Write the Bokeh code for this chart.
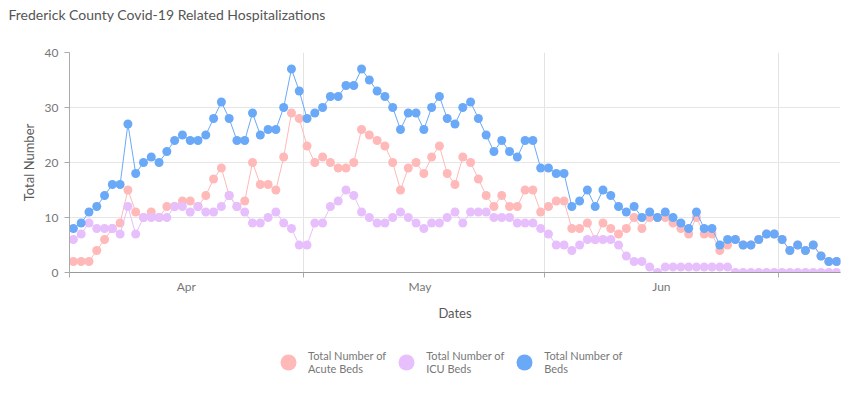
import pandas as pd
from bokeh.plotting import figure
from bokeh.layouts import column
from bokeh.models import (Range1d, FixedTicker, Legend, LegendItem,
                          DatetimeTickFormatter)
from bokeh.embed import file_html
from bokeh.resources import INLINE

# ---- data ----
dates = pd.date_range("2020-04-01", "2020-07-08", freq="D")

acute_beds = [2, 2, 2, 4, 6, 8, 9, 15, 11, 10, 11, 10, 12, 12, 13, 13, 12, 14, 17, 19, 14, 12, 13, 20, 16,
              16, 15, 21, 29, 28, 23, 20, 21, 20, 19, 19, 20, 26, 25, 24, 23, 20, 15, 19, 20, 18, 21, 23,
              18, 16, 21, 20, 17, 14, 12, 14, 12, 12, 15, 15, 11, 12, 13, 13, 8, 8, 9, 6, 9, 8, 7,
              8, 10, 8, 10, 10, 10, 9, 8, 7, 10, 7, 7, 4, 5, 6, 5, 5, 6, 7, 7, 6, 4, 5, 4, 5, 3, 2, 2]

icu_beds = [6, 7, 9, 8, 8, 8, 7, 12, 7, 10, 10, 10, 10, 12, 12, 11, 12, 11, 11, 12, 14, 12, 11, 9, 9,
            10, 11, 9, 8, 5, 5, 9, 9, 12, 13, 15, 14, 11, 10, 9, 9, 10, 11, 10, 9, 8, 9, 9,
            10, 11, 9, 11, 11, 11, 10, 10, 10, 9, 9, 9, 8, 7, 5, 5, 4, 5, 6, 6, 6, 6, 5,
            3, 2, 2, 1, 0, 1, 1, 1, 1, 1, 1, 1, 1, 1, 0, 0, 0, 0, 0, 0, 0, 0, 0, 0, 0, 0, 0, 0]

total_beds = [8, 9, 11, 12, 14, 16, 16, 27, 18, 20, 21, 20, 22, 24, 25, 24, 24, 25, 28, 31, 28, 24, 24, 29, 25,
              26, 26, 30, 37, 33, 28, 29, 30, 32, 32, 34, 34, 37, 35, 33, 32, 30, 26, 29, 29, 26, 30, 32,
              28, 27, 30, 31, 28, 25, 22, 24, 22, 21, 24, 24, 19, 19, 18, 18, 12, 13, 15, 12, 15, 14, 12,
              11, 12, 10, 11, 10, 11, 10, 9, 8, 11, 8, 8, 5, 6, 6, 5, 5, 6, 7, 7, 6, 4, 5, 4, 5, 3, 2, 2]

series_names = ["Total Number of\nAcute Beds", "Total Number of\nICU Beds", "Total Number of\nBeds"]
series_colors = ["#ffb9b9", "#e7bffc", "#6aa9f8"]
y_ticks = [0, 10, 20, 30, 40]
month_starts = ["2020-04-01", "2020-05-01", "2020-06-01", "2020-07-01"]
month_mids = ["2020-04-16", "2020-05-16", "2020-06-16"]

FONT = "Lato"

def ms(s):
    return pd.Timestamp(s).value / 1e6

x = dates + pd.Timedelta(hours=12)
series = [acute_beds, icu_beds, total_beds]

p = figure(width=861, height=330, output_backend="svg", toolbar_location=None,
           x_axis_type="datetime",
           x_range=Range1d(ms("2020-04-01"), ms("2020-07-09")),
           y_range=Range1d(0, 40),
           min_border_left=69, min_border_right=21, min_border_top=52, min_border_bottom=58)
p.outline_line_color = None

# title
p.title.text = "Frederick County Covid-19 Related Hospitalizations"
p.title.text_font = FONT
p.title.text_font_size = "14px"
p.title.text_font_style = "normal"
p.title.text_color = "#555555"
p.title.align = "left"
p.title.vertical_align = "top"
p.title.offset = -61
p.title.standoff = 0
p.title.padding = dict(left=0, right=0, top=0, bottom=28)

for vals, col in zip(series, series_colors):
    p.line(x, vals, line_color=col, line_width=1)
    p.scatter(x, vals, size=9, fill_color=col, line_color=None, marker="circle")

# axes
xa = p.xaxis[0]
xa.ticker = FixedTicker(ticks=[ms(d) for d in month_mids], minor_ticks=[ms(d) for d in month_starts])
xa.formatter = DatetimeTickFormatter(days="%b", months="%b", years="%b", hours="%b",
                                     context=None)
xa.major_tick_line_color = None
xa.major_tick_out = 0
xa.major_tick_in = 0
xa.minor_tick_out = 5
xa.minor_tick_in = 0
xa.minor_tick_line_color = "#aaaaaa"
xa.axis_line_color = "#999999"
xa.major_label_standoff = 1
xa.major_label_text_font = FONT
xa.major_label_text_font_size = "12px"
xa.major_label_text_color = "#777777"
xa.axis_label = "Dates"
xa.axis_label_text_font = FONT
xa.axis_label_text_font_size = "13px"
xa.axis_label_text_font_style = "normal"
xa.axis_label_text_color = "#595959"
xa.axis_label_standoff = 8

ya = p.yaxis[0]
ya.ticker = FixedTicker(ticks=y_ticks)
ya.minor_tick_line_color = None
ya.major_tick_out = 5
ya.major_tick_in = 0
ya.major_tick_line_color = "#aaaaaa"
ya.axis_line_color = "#aaaaaa"
ya.major_label_standoff = 6
ya.major_label_text_font = FONT
ya.major_label_text_font_size = "12px"
ya.major_label_text_color = "#777777"
ya.axis_label = "Total Number"
ya.axis_label_text_font = FONT
ya.axis_label_text_font_size = "13px"
ya.axis_label_text_font_style = "normal"
ya.axis_label_text_color = "#595959"
ya.axis_label_standoff = 5

p.xgrid.ticker = FixedTicker(ticks=[ms(d) for d in month_starts])
p.xgrid.grid_line_color = "#e3e3e3"
p.ygrid.grid_line_color = "#e6e6e6"

# legend strip (separate figure below the chart; its y-range shows no data,
# the renderers only supply the legend glyphs)
pl = figure(width=861, height=63, output_backend="svg", toolbar_location=None,
            x_range=p.x_range, y_range=Range1d(100, 101),
            x_axis_location=None, y_axis_location=None,
            min_border_left=69, min_border_right=21, min_border_top=0, min_border_bottom=0)
pl.outline_line_color = None
pl.grid.visible = False
leg_renderers = [pl.scatter(x, vals, fill_color=col, line_color=None, marker="circle")
                 for vals, col in zip(series, series_colors)]
legend = Legend(items=[LegendItem(label=n, renderers=[r]) for n, r in zip(series_names, leg_renderers)],
                orientation="horizontal", location=(199, 11),
                glyph_width=40, glyph_height=40, label_standoff=-2, spacing=0,
                label_width=70, padding=0, margin=0,
                border_line_color=None, background_fill_color=None,
                label_text_font=FONT, label_text_font_size="11px", label_text_color="#777777")
pl.add_layout(legend, "center")

layout = column(p, pl, spacing=0)
open("out.html", "w").write(file_html(layout, INLINE))
